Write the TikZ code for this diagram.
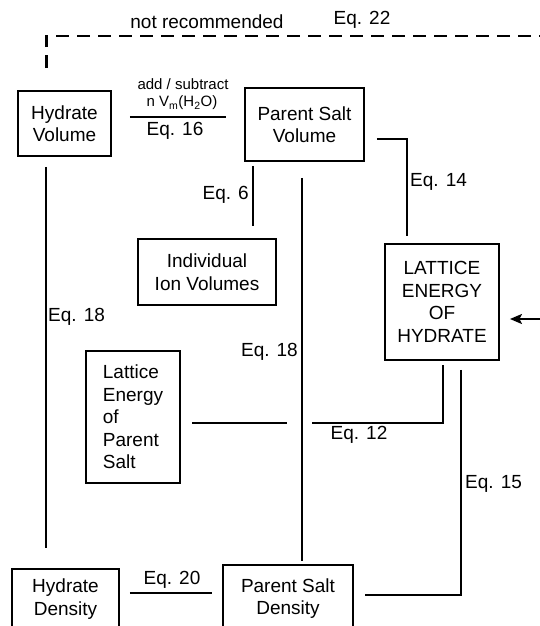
\documentclass[tikz,border=0pt]{standalone}
\usepackage{fontspec}
\setmainfont{Liberation Sans}
\usetikzlibrary{calc,arrows.meta}
\begin{document}
\begin{tikzpicture}[x=1pt,y=-1pt,
  box/.style={draw, line width=1.9pt, inner sep=0pt, align=center, font=\fontsize{19}{22.5}\selectfont},
  lbl/.style={inner sep=0pt, font=\fontsize{19}{22.5}\selectfont},
  small/.style={inner sep=0pt, font=\fontsize{15}{18}\selectfont},
  conn/.style={line width=1.9pt},
  dashconn/.style={line width=2.5pt, dash pattern=on 13pt off 8pt}]
\useasboundingbox (0,0) rectangle (540,626);
\clip (0,0) rectangle (540,626);

% boxes
\node[box, minimum width=93pt, minimum height=65pt] (hv) at (64.5,123.5) {Hydrate\\Volume};
\node[box, minimum width=119pt, minimum height=73pt] (psv) at (304.5,124.5) {Parent Salt\\Volume};
\node[box, minimum width=138pt, minimum height=66pt] (iiv) at (207,272) {Individual\\Ion Volumes};
\node[box, minimum width=114pt, minimum height=116pt] (leh) at (442,302) {LATTICE\\ENERGY\\OF\\HYDRATE};
\node[box, align=left, minimum width=94.5pt, minimum height=132pt] (lep) at (133,417) {Lattice\\Energy\\of\\Parent\\Salt};
\node[box, minimum width=107pt, minimum height=60pt] (hd) at (65.5,599) {Hydrate\\Density};
\node[box, minimum width=130pt, minimum height=67pt] (psd) at (288,598.5) {Parent Salt\\Density};

% labels
\node[lbl] (t22a) at (207,22) {not recommended};
\node[lbl] (t22b) at (362,20) {Eq. 22};
\node[small] (t16a) at (183,84) {add / subtract};
\node[small] (t16b) at (182,103) {n V\textsubscript{m}(H\textsubscript{2}O)};
\node[lbl] (t16c) at (175,131) {Eq. 16};
\node[lbl, anchor=east] (t6) at (249,195) {Eq. 6};
\node[lbl, anchor=east] (t18m) at (298,352) {Eq. 18};
\node[lbl, anchor=west] (t18l) at (48,317) {Eq. 18};
\node[lbl, anchor=west] (t14) at (410,182) {Eq. 14};
\node[lbl] (t12) at (359,435) {Eq. 12};
\node[lbl, anchor=west] (t15) at (465,484) {Eq. 15};
\node[lbl] (t20) at (172,580) {Eq. 20};

% connectors
\coordinate (dashend) at (545,36);
\draw[dashconn] ($(hv.north)+(-18,-22)$) |- (dashend);

\draw[conn] ($(hv.east)+(18,-6.5)$) -- ($(psv.west)+(-18,-7.5)$);

\draw[conn] ($(psv.south)+(-51.5,4)$) -- ($(psv.south)+(-51.5,64)$);

\draw[conn] ($(psv.south)+(-2.5,16)$) -- ($(psd.north)+(14,-3)$ |- 0,562);

\draw[conn] ($(hv.south)+(-18.5,10)$) -- ($(hd.north)+(-19.5,-20)$);

\draw[conn] ($(psv.east)+(12,14.5)$) -| ($(leh.north)+(-35,-7)$);

\draw[conn] ($(lep.east)+(11,6)$) -- ($(lep.east)+(106,6)$);
\draw[conn] ($(lep.east)+(131,6)$) -| ($(leh.south)+(1,4)$);

\draw[conn] ($(leh.south)+(19,9)$) |- ($(psd.east)+(11,-3.5)$);

\draw[conn] ($(hd.east)+(10,-6)$) -- ($(psd.west)+(-10,-5.5)$);

\coordinate (arrtail) at (541,319);
\draw[conn, -{Stealth[length=12pt,width=10pt,inset=2.5pt]}] (arrtail) -- ($(leh.east)+(10,17)$);
\end{tikzpicture}
\end{document}
